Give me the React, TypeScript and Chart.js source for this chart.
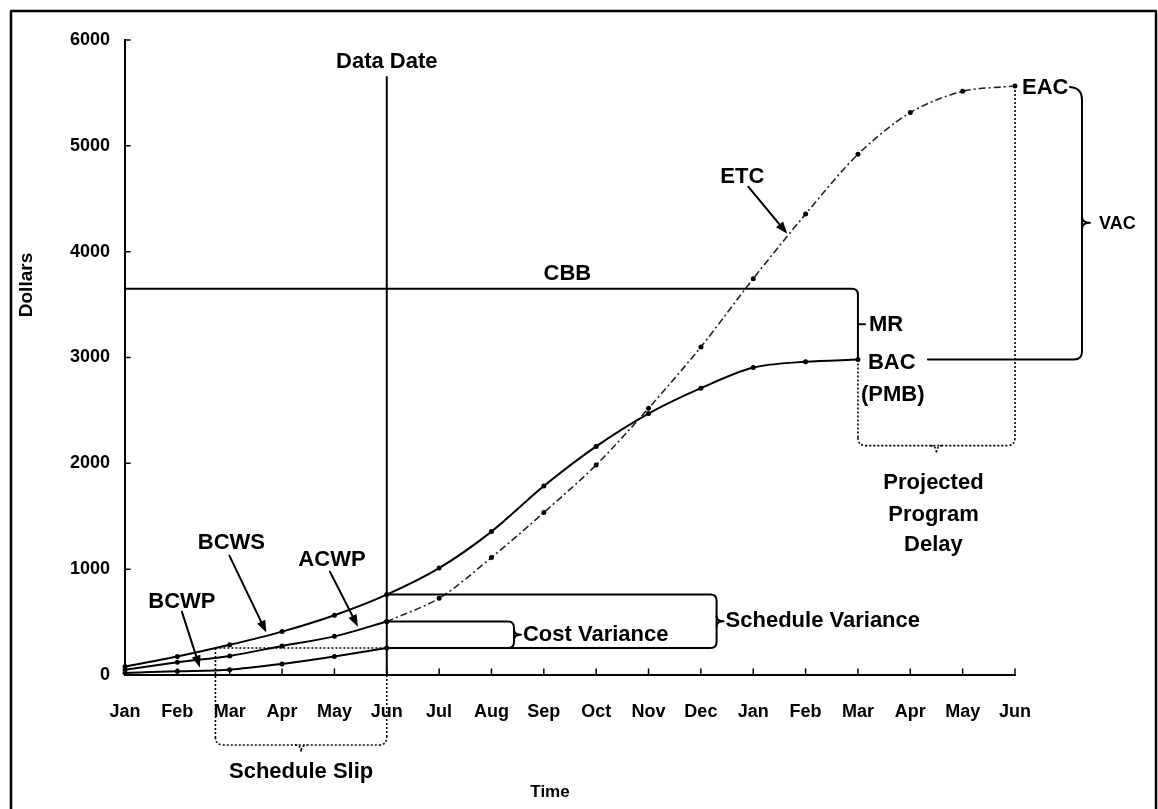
import React, { useEffect, useRef } from "react";
import { Chart, registerables } from "chart.js";
Chart.register(...registerables);

// ---------- data ----------
const MONTHS = ["Jan", "Feb", "Mar", "Apr", "May", "Jun", "Jul", "Aug", "Sep", "Oct", "Nov", "Dec", "Jan", "Feb", "Mar", "Apr", "May", "Jun"];
const BCWS = [80, 175, 285, 410, 565, 760, 1010, 1355, 1785, 2160, 2470, 2710, 2905, 2960, 2980];
const ACWP = [50, 120, 180, 275, 365, 505];
const BCWP = [20, 35, 50, 105, 175, 255];
const ETC = [null, null, null, null, null, 505, 725, 1110, 1535, 1985, 2520, 3100, 3745, 4355, 4920, 5315, 5515, 5565];
const Y_TICKS = [0, 1000, 2000, 3000, 4000, 5000, 6000];
const CBB = 3650;
const DATA_DATE_INDEX = 5;
const DATA_DATE_TOP = 5650;

const FONT = "Arial, 'Liberation Sans', Helvetica, sans-serif";

function interp(arr: (number | null)[], t: number): number {
  const i = Math.floor(t);
  const f = t - i;
  const a = arr[i] as number;
  const b = (arr[i + 1] ?? a) as number;
  return a + (b - a) * f;
}

function crossIndex(arr: number[], v: number): number {
  for (let i = 0; i < arr.length - 1; i++) {
    if (arr[i] <= v && arr[i + 1] >= v) return i + (v - arr[i]) / (arr[i + 1] - arr[i]);
  }
  return 0;
}

function line(ctx: CanvasRenderingContext2D, x1: number, y1: number, x2: number, y2: number) {
  ctx.beginPath();
  ctx.moveTo(x1, y1);
  ctx.lineTo(x2, y2);
  ctx.stroke();
}

function arrow(ctx: CanvasRenderingContext2D, x1: number, y1: number, x2: number, y2: number) {
  const a = Math.atan2(y2 - y1, x2 - x1);
  const L = 12, W = 4.5;
  line(ctx, x1, y1, x2 - 6 * Math.cos(a), y2 - 6 * Math.sin(a));
  ctx.beginPath();
  ctx.moveTo(x2, y2);
  ctx.lineTo(x2 - L * Math.cos(a) + W * Math.sin(a), y2 - L * Math.sin(a) - W * Math.cos(a));
  ctx.lineTo(x2 - L * Math.cos(a) - W * Math.sin(a), y2 - L * Math.sin(a) + W * Math.cos(a));
  ctx.closePath();
  ctx.fill();
}

// right-facing brace: top arm at yT from xT, bottom arm at yB to xB, vertical at x
function rightBrace(ctx: CanvasRenderingContext2D, xT: number, yT: number, xB: number, yB: number, x: number, r: number, notch: number) {
  ctx.beginPath();
  ctx.moveTo(xT, yT);
  ctx.lineTo(x - r, yT);
  ctx.quadraticCurveTo(x, yT, x, yT + r);
  ctx.lineTo(x, yB - r);
  ctx.quadraticCurveTo(x, yB, x - r, yB);
  ctx.lineTo(xB, yB);
  ctx.stroke();
  const m = (yT + yB) / 2;
  ctx.beginPath();
  ctx.moveTo(x, m - 5);
  ctx.quadraticCurveTo(x, m, x + notch, m);
  ctx.quadraticCurveTo(x, m, x, m + 5);
  ctx.stroke();
}

// downward brace: verticals at xL, xR end at y, notch pointing down
function downBrace(ctx: CanvasRenderingContext2D, xL: number, xR: number, y: number, r: number, notch: number) {
  ctx.beginPath();
  ctx.moveTo(xL, y - r);
  ctx.quadraticCurveTo(xL, y, xL + r, y);
  ctx.lineTo(xR - r, y);
  ctx.quadraticCurveTo(xR, y, xR, y - r);
  ctx.stroke();
  const m = (xL + xR) / 2;
  ctx.beginPath();
  ctx.moveTo(m - 6, y);
  ctx.quadraticCurveTo(m, y, m, y + notch);
  ctx.quadraticCurveTo(m, y, m + 6, y);
  ctx.stroke();
}

const evmPlugin = {
  id: "evmAnnotations",
  afterDraw(chart: any) {
    const { ctx, chartArea } = chart;
    const xs = chart.scales.x;
    const ys = chart.scales.y;
    const X = (i: number) => xs.getPixelForValue(i);
    const Y = (v: number) => ys.getPixelForValue(v);
    const bacIdx = BCWS.length - 1;
    const BAC = BCWS[bacIdx];
    const eacIdx = ETC.length - 1;
    const EAC = ETC[eacIdx] as number;
    const dd = DATA_DATE_INDEX;

    ctx.save();
    ctx.strokeStyle = "#000";
    ctx.fillStyle = "#000";
    ctx.lineCap = "round";
    ctx.lineJoin = "round";

    // outer frame
    ctx.lineWidth = 2.5;
    ctx.strokeRect(11, 11, 1145, 840);

    // inward tick marks
    ctx.lineWidth = 1.5;
    Y_TICKS.forEach((v) => line(ctx, chartArea.left, Y(v), chartArea.left + 5, Y(v)));
    MONTHS.forEach((_, i) => line(ctx, X(i), chartArea.bottom, X(i), chartArea.bottom - 6));

    // Data Date
    ctx.lineWidth = 2;
    line(ctx, X(dd), Y(DATA_DATE_TOP), X(dd), chartArea.bottom);

    // CBB line with MR bracket
    const r = 6;
    ctx.beginPath();
    ctx.moveTo(X(0), Y(CBB));
    ctx.lineTo(X(bacIdx) - r, Y(CBB));
    ctx.quadraticCurveTo(X(bacIdx), Y(CBB), X(bacIdx), Y(CBB) + r);
    ctx.lineTo(X(bacIdx), Y(BAC));
    ctx.stroke();
    const mrMid = (Y(CBB) + Y(BAC)) / 2;
    line(ctx, X(bacIdx), mrMid, X(bacIdx) + 7, mrMid);

    // BAC line with VAC bracket
    const xv = X(eacIdx) + 67;
    ctx.beginPath();
    ctx.moveTo(X(bacIdx) + 70, Y(BAC));
    ctx.lineTo(xv - 8, Y(BAC));
    ctx.quadraticCurveTo(xv, Y(BAC), xv, Y(BAC) - 8);
    ctx.lineTo(xv, Y(EAC) + 14);
    ctx.quadraticCurveTo(xv, Y(EAC) + 2, xv - 12, Y(EAC) + 1);
    ctx.stroke();
    const vacMid = (Y(EAC) + Y(BAC)) / 2;
    ctx.beginPath();
    ctx.moveTo(xv, vacMid - 6);
    ctx.quadraticCurveTo(xv, vacMid, xv + 8, vacMid);
    ctx.quadraticCurveTo(xv, vacMid, xv, vacMid + 6);
    ctx.stroke();

    // Variance brackets at data date
    const yS = Y(BCWS[dd]);
    const yA = Y(ACWP[dd]);
    const yP = Y(BCWP[dd]);
    const xCV = X(7.43);
    const xSV = X(11.3);
    ctx.lineWidth = 2;
    rightBrace(ctx, X(dd), yS, X(dd), yP, xSV, 6, 7);
    rightBrace(ctx, X(dd), yA, xCV - 6, yP, xCV, 6, 7);

    // Schedule slip (dotted)
    ctx.lineWidth = 1.6;
    ctx.setLineDash([2, 2]);
    ctx.lineCap = "butt";
    const xSlip = X(crossIndex(BCWS, BCWP[dd]));
    const ySlip = chartArea.bottom + 70;
    line(ctx, xSlip, yP, X(dd), yP);
    line(ctx, xSlip, yP, xSlip, ySlip - 8);
    line(ctx, X(dd), chartArea.bottom, X(dd), ySlip - 8);
    downBrace(ctx, xSlip, X(dd), ySlip, 8, 7);

    // Projected program delay (dotted)
    const yDelay = Y(BAC) + 86;
    line(ctx, X(bacIdx), Y(BAC), X(bacIdx), yDelay - 8);
    line(ctx, X(eacIdx), Y(EAC), X(eacIdx), yDelay - 8);
    downBrace(ctx, X(bacIdx), X(eacIdx), yDelay, 8, 8);
    ctx.setLineDash([]);
    ctx.lineCap = "round";

    // Arrows
    ctx.lineWidth = 2;
    const arrows: [number, number[], number, number][] = [
      [2.7, BCWS, -37, -77],
      [4.45, ACWP, -28, -55],
      [1.43, BCWP, -18, -56],
      [12.65, ETC as number[], -39, -47],
    ];
    arrows.forEach(([t, arr, dx, dy]) => {
      const tx = X(t);
      const ty = Y(interp(arr, t)) - 3;
      arrow(ctx, tx + dx, ty + dy, tx, ty);
    });

    // Texts
    ctx.textBaseline = "middle";
    ctx.textAlign = "center";
    ctx.font = `bold 22px ${FONT}`;
    ctx.fillText("Data Date", X(dd), Y(DATA_DATE_TOP) - 15);
    ctx.fillText("CBB", X(8.45), Y(CBB) - 15);
    const bx = X(2.7), by = Y(interp(BCWS, 2.7)) - 3;
    ctx.fillText("BCWS", bx - 35, by - 90);
    const ax = X(4.45), ay = Y(interp(ACWP, 4.45)) - 3;
    ctx.fillText("ACWP", ax - 26, ay - 67);
    const px = X(1.43), py = Y(interp(BCWP, 1.43)) - 3;
    ctx.fillText("BCWP", px - 18, py - 66);
    const ex = X(12.65), ey = Y(interp(ETC as number[], 12.65)) - 3;
    ctx.fillText("ETC", ex - 45, ey - 57);
    ctx.fillText("Schedule Slip", (xSlip + X(dd)) / 2, ySlip + 27);
    const pm = (X(bacIdx) + X(eacIdx)) / 2 - 3;
    ctx.fillText("Projected", pm, yDelay + 37);
    ctx.fillText("Program", pm, yDelay + 69);
    ctx.fillText("Delay", pm, yDelay + 99);

    ctx.textAlign = "left";
    ctx.fillText("MR", X(bacIdx) + 11, mrMid + 1);
    ctx.fillText("BAC", X(bacIdx) + 10, Y(BAC) + 3);
    ctx.fillText("(PMB)", X(bacIdx) + 3, Y(BAC) + 35);
    ctx.fillText("EAC", X(eacIdx) + 7, Y(EAC) + 2);
    ctx.fillText("Cost Variance", xCV + 9, (yA + yP) / 2);
    ctx.fillText("Schedule Variance", xSV + 9, (yS + yP) / 2);
    ctx.font = `bold 18px ${FONT}`;
    ctx.fillText("VAC", xv + 17, vacMid + 1);

    // axis titles
    ctx.textAlign = "center";
    ctx.font = `bold 17px ${FONT}`;
    ctx.fillText("Time", 550, chartArea.bottom + 117);
    ctx.save();
    ctx.translate(27, 285);
    ctx.rotate(-Math.PI / 2);
    ctx.font = `bold 19px ${FONT}`;
    ctx.fillText("Dollars", 0, 0);
    ctx.restore();

    ctx.restore();
  },
};

export default function App() {
  const ref = useRef<HTMLCanvasElement | null>(null);
  useEffect(() => {
    if (!ref.current) return;
    const pt = { pointRadius: 2.5, pointBackgroundColor: "#000", pointBorderColor: "#000", pointBorderWidth: 0, tension: 0.3 };
    const chart = new Chart(ref.current, {
      type: "line",
      data: {
        labels: MONTHS,
        datasets: [
          { label: "BCWS", data: BCWS, borderColor: "#000", borderWidth: 2, ...pt },
          { label: "ACWP", data: ACWP, borderColor: "#000", borderWidth: 2, ...pt },
          { label: "BCWP", data: BCWP, borderColor: "#000", borderWidth: 2, ...pt },
          { label: "ETC", data: ETC, borderColor: "#222", borderWidth: 1.6, borderDash: [7, 3, 2, 3], ...pt },
        ],
      },
      options: {
        responsive: false,
        animation: false,
        layout: { padding: { left: 0, top: 40, right: 143, bottom: 0 } },
        plugins: { legend: { display: false }, tooltip: { enabled: false } },
        scales: {
          x: {
            type: "category",
            offset: false,
            grid: { display: false, drawTicks: false },
            border: { display: true, color: "#000", width: 2 },
            ticks: { color: "#000", font: { family: FONT, size: 18, weight: "bold" }, padding: 26, maxRotation: 0, autoSkip: false },
            afterFit: (s: any) => { s.height = 134; },
          },
          y: {
            min: 0,
            max: 6000,
            grid: { display: false, drawTicks: false },
            border: { display: true, color: "#000", width: 2 },
            ticks: {
              stepSize: 1000,
              color: "#000",
              font: { family: FONT, size: 18, weight: "bold" },
              padding: 15,
              callback: (v: any) => String(v),
            },
            afterFit: (s: any) => { s.width = 125; },
          },
        },
      },
      plugins: [evmPlugin],
    });
    return () => chart.destroy();
  }, []);
  return (
    <div style={{ position: "fixed", left: 0, top: 0, width: 1158, height: 809, background: "#fff" }}>
      <canvas ref={ref} width={1158} height={809} />
    </div>
  );
}
